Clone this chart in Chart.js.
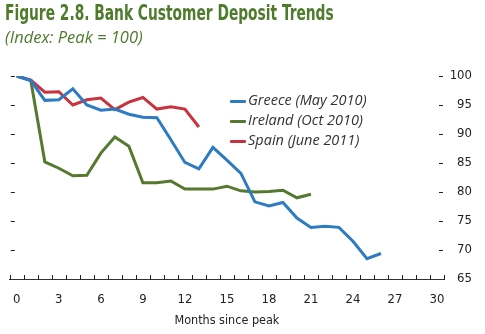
<!DOCTYPE html>
<html>
<head>
<meta charset="utf-8">
<script src="https://cdn.jsdelivr.net/npm/chart.js@4.4.1/dist/chart.umd.min.js"></script>
<style>
  body { margin: 0; background: #fff; }
  #wrap { position: relative; width: 485px; height: 334px; }
  #chart { position: absolute; left: 0; top: 0; }
  .title { position: absolute; left: 5px; top: 1px; font: bold 21px 'DejaVu Sans Condensed', sans-serif; color: #4f7b2c; white-space: nowrap; transform: scaleX(0.73); transform-origin: left top; }
  .subtitle { position: absolute; left: 5px; top: 25px; font: italic 16.5px 'Open Sans', sans-serif; color: #4f7b2c; white-space: nowrap; }
  #legend { position: absolute; left: 230px; top: 90px; font: italic 14.5px 'Open Sans', sans-serif; color: #333; }
  #legend div { height: 20px; line-height: 20px; white-space: nowrap; }
  #legend span { display: inline-block; width: 16px; height: 3px; vertical-align: middle; margin-right: 2px; border-radius: 1px; }
</style>
</head>
<body>
<div id="wrap">
  <canvas id="chart" width="485" height="334"></canvas>
  <div class="title">Figure 2.8. Bank Customer Deposit Trends</div>
  <div class="subtitle">(Index: Peak = 100)</div>
  <div id="legend"></div>
</div>
<script>
// months since peak, 0..30
const months = ["0","1","2","3","4","5","6","7","8","9","10","11","12","13","14","15",
  "16","17","18","19","20","21","22","23","24","25","26","27","28","29","30"];

const greece = [100, 99.2, 95.8, 95.9, 97.8, 95.0, 94.1, 94.3, 93.4, 92.9, 92.8, 89.0, 85.1, 84.0,
  87.7, 85.5, 83.2, 78.3, 77.6, 78.2, 75.5, 73.9, 74.1, 73.9, 71.5, 68.5, 69.4];
const ireland = [100, 99.2, 85.2, 84.1, 82.8, 82.9, 86.7, 89.5, 87.9, 81.6, 81.6, 81.9, 80.5, 80.5,
  80.5, 81.0, 80.2, 80.0, 80.1, 80.3, 79.0, 79.6];
const spain = [100, 99.3, 97.2, 97.3, 95.0, 95.9, 96.2, 94.2, 95.5, 96.3, 94.3, 94.7, 94.3, 91.2];

const yTicks = [65, 70, 75, 80, 85, 90, 95, 100];

const narrow = "'DejaVu Sans Condensed', sans-serif";

// little inward tick marks like the original
const axisMarks = {
  id: 'axisMarks',
  afterDraw(chart) {
    const { ctx, chartArea, scales: { x, y } } = chart;
    ctx.save();
    ctx.strokeStyle = '#222';
    ctx.lineWidth = 1;
    ctx.beginPath();
    y.ticks.forEach(t => {
      if (t.value === y.min) return;
      const py = Math.round(y.getPixelForValue(t.value)) + 0.5;
      ctx.moveTo(chartArea.left + 1, py); ctx.lineTo(chartArea.left + 5, py);
      ctx.moveTo(chartArea.right - 5, py); ctx.lineTo(chartArea.right - 1, py);
    });
    const n = months.length;
    const base = Math.round(chartArea.bottom);
    for (let i = 0; i <= n; i++) {
      let px;
      if (i === 0) px = x.left;
      else if (i === n) px = x.right;
      else px = (x.getPixelForValue(i - 1) + x.getPixelForValue(i)) / 2;
      px = Math.round(px) + 0.5;
      ctx.moveTo(px, base + 1);
      ctx.lineTo(px, base - 4);
    }
    ctx.stroke();
    ctx.restore();
  }
};

const line = (label, data, color) => ({
  label, data, borderColor: color, backgroundColor: color,
  borderWidth: 3, pointRadius: 0, tension: 0, fill: false
});

const chart = new Chart(document.getElementById('chart'), {
  type: 'line',
  data: {
    labels: months,
    datasets: [
      line('Greece (May 2010)', greece, '#2d7bc1'),
      line('Ireland (Oct 2010)', ireland, '#54792f'),
      line('Spain (June 2011)', spain, '#c8333d')
    ]
  },
  options: {
    responsive: false,
    animation: false,
    layout: { padding: { top: 76, left: 6, right: 13, bottom: 0 } },
    plugins: { legend: { display: false }, tooltip: { enabled: false } },
    scales: {
      x: {
        offset: true,
        grid: { display: false, drawTicks: false },
        border: { display: true, color: '#333', width: 1 },
        ticks: {
          autoSkip: false, maxRotation: 0, padding: 13, color: '#222',
          font: { family: narrow, size: 13 },
          callback: (v, i) => (i % 3 === 0 ? months[i] : '')
        },
        title: { display: true, text: 'Months since peak', color: '#222', padding: { top: 0, bottom: 6 },
          font: { family: narrow, size: 12.5 } },
        afterFit: s => { s.height = 55; }
      },
      y: {
        position: 'right',
        min: 65, max: 100,
        afterBuildTicks: s => { s.ticks = yTicks.map(v => ({ value: v })); },
        grid: { display: false, drawTicks: false },
        border: { display: false },
        ticks: { padding: 7, crossAlign: 'far', color: '#222', font: { family: narrow, size: 13 } },
        afterFit: s => { s.width = 28; }
      }
    }
  },
  plugins: [axisMarks]
});

document.getElementById('legend').innerHTML = chart.data.datasets
  .map(d => '<div><span style="background:' + d.borderColor + '"></span>' + d.label + '</div>')
  .join('');
</script>
</body>
</html>
